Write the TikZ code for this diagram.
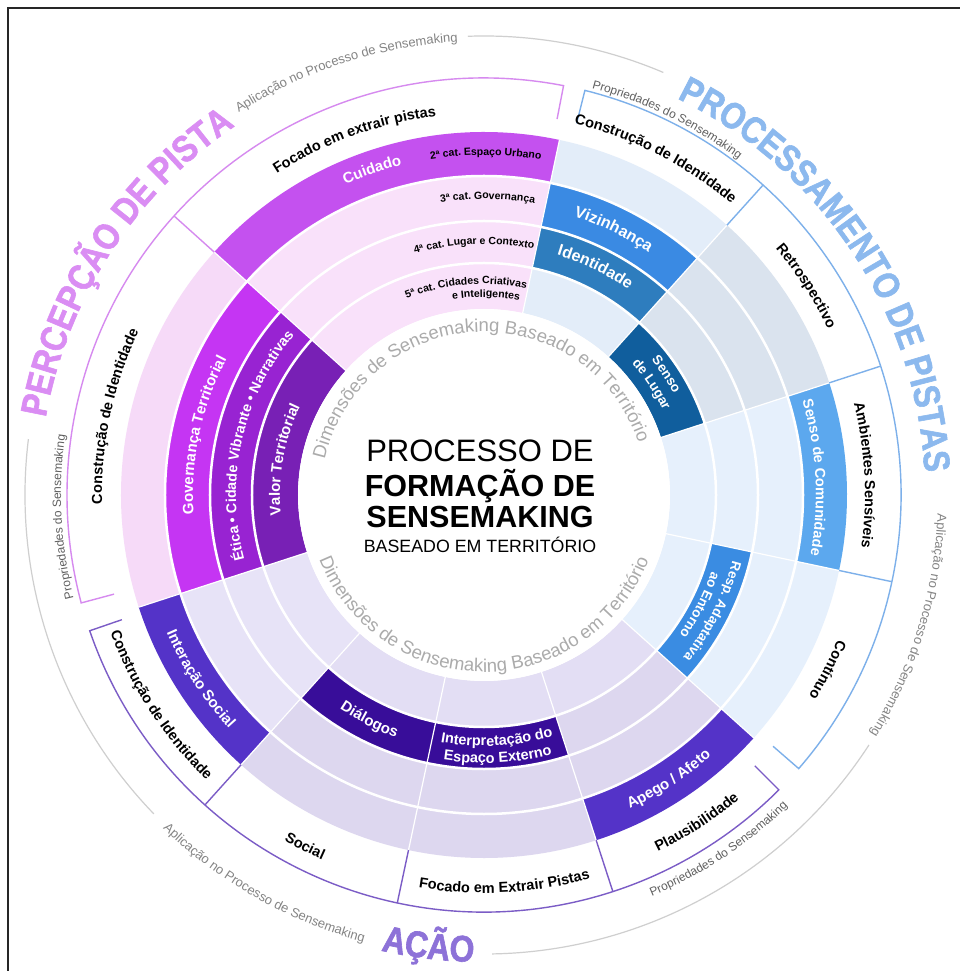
\documentclass[tikz,border=0pt]{standalone}
\usepackage{fontspec}
\setmainfont{Liberation Sans}
\newfontfamily\bigfont{Liberation Sans}[FakeStretch=0.86,FakeBold=1.6]
\usetikzlibrary{decorations.text}
\definecolor{cuid}{HTML}{C451EF}
\definecolor{pinkA}{HTML}{F9E1FA}
\definecolor{pinkB}{HTML}{F6DAF8}
\definecolor{govt}{HTML}{C535F3}
\definecolor{etica}{HTML}{9823D2}
\definecolor{valor}{HTML}{7820B5}
\definecolor{blueA}{HTML}{E3EDF9}
\definecolor{blueG}{HTML}{DAE3EE}
\definecolor{blueB}{HTML}{E6F0FC}
\definecolor{vizi}{HTML}{3A8AE3}
\definecolor{iden}{HTML}{2E7DBE}
\definecolor{lugar}{HTML}{105E9D}
\definecolor{comun}{HTML}{5CA8EE}
\definecolor{resp}{HTML}{3A8CE2}
\definecolor{lavA}{HTML}{E7E3F7}
\definecolor{lavB}{HTML}{DDD7EF}
\definecolor{lavC}{HTML}{E3DEF4}
\definecolor{inter}{HTML}{5433C8}
\definecolor{dial}{HTML}{380D99}
\definecolor{pinkL}{HTML}{D68AEF}
\definecolor{blueL}{HTML}{7DB0EA}
\definecolor{lavL}{HTML}{7B5CC6}
\definecolor{greyL}{HTML}{CFCFCF}
\definecolor{pinkT}{HTML}{DA8DF3}
\definecolor{blueT}{HTML}{8CB9EE}
\definecolor{lavT}{HTML}{8D72D8}
\definecolor{greyT}{HTML}{858585}
\definecolor{propT}{HTML}{606060}
\definecolor{dimT}{HTML}{ABABAB}
\newcommand\annsec[5]{\fill[#1] (#2:#4pt) arc[start angle=#2,end angle=#3,radius=#4pt] -- (#3:#5pt) arc[start angle=#3,end angle=#2,radius=#5pt] -- cycle;}
\newcommand\cwtext[6][]{\path[decorate,decoration={text along path,text align=center,text color=black,#1,text={|#5|#6}}] ({#2+#4}:#3pt) arc[start angle={#2+#4},end angle={#2-#4},radius=#3pt];}
\newcommand\ccwtext[6][]{\path[decorate,decoration={text along path,text align=center,text color=black,#1,text={|#5|#6}}] ({#2-#4}:#3pt) arc[start angle={#2-#4},end angle={#2+#4},radius=#3pt];}
\newcommand\fring{\bfseries\fontsize{14.5}{17}\selectfont}
\newcommand\finn{\bfseries\fontsize{15}{17}\selectfont}
\newcommand\fcat{\bfseries\fontsize{10.5}{12}\selectfont}
\newcommand\fbig{\bigfont\bfseries\fontsize{37}{40}\selectfont}
\newcommand\fapl{\fontsize{13}{15}\selectfont}
\newcommand\fprop{\fontsize{12}{14}\selectfont}
\newcommand\fdim{\fontsize{18.5}{20}\selectfont}
\tikzset{
  ringdiv/.style={line width=1.4pt},
  greyarc/.style={greyL,line width=1.2pt},
  sep/.style={white,line width=2.5pt},
  radsep/.style={white,line width=1.2pt}
}
\begin{document}
\begin{tikzpicture}[x=1pt,y=1pt]
\fill[white] (-484,-476) rectangle (475,495);
\useasboundingbox (-484,-476) rectangle (475,495);
% pink sector
\annsec{cuid}{78}{138}{319}{363}
\annsec{pinkA}{78}{138}{186}{319}
\annsec{pinkB}{138}{198}{319}{363}
\annsec{govt}{138}{198}{274}{319}
\annsec{etica}{138}{198}{232}{274}
\annsec{valor}{138}{198}{186}{232}
% blue sector
\annsec{blueA}{48}{78}{319}{363}
\annsec{vizi}{48}{78}{274}{319}
\annsec{iden}{48}{78}{232}{274}
\annsec{blueA}{48}{78}{186}{232}
\annsec{blueG}{18}{48}{232}{363}
\annsec{lugar}{18}{48}{186}{232}
\annsec{comun}{-12}{18}{319}{363}
\annsec{blueB}{-12}{18}{186}{319}
\annsec{blueB}{-42}{-12}{274}{363}
\annsec{resp}{-42}{-12}{232}{274}
\annsec{blueB}{-42}{-12}{186}{232}
% lavender sector
\annsec{inter}{198}{228}{319}{363}
\annsec{lavA}{198}{228}{186}{319}
\annsec{lavB}{228}{288}{274}{363}
\annsec{dial}{228}{288}{232}{274}
\annsec{lavC}{228}{318}{186}{232}
\annsec{inter}{288}{318}{319}{363}
\annsec{lavB}{288}{318}{232}{319}
% inner disc and separators
\fill[white] (0,0) circle[radius=186pt];
\foreach \r in {232,274,319} \draw[sep] (0,0) circle[radius=\r pt];
\foreach \a in {18,48,78,138,198,228,258,288,318,348} \draw[radsep] (\a:186pt) -- (\a:363pt);
% label ring dividers
\draw[pinkL,ringdiv] (138:363pt) -- (138:417pt);
\foreach \a in {48,18,-12} \draw[blueL,ringdiv] (\a:363pt) -- (\a:417pt);
\foreach \a in {228,258,288} \draw[lavL,ringdiv] (\a:363pt) -- (\a:417pt);
% brackets
\draw[pinkL,ringdiv] (79:383pt) -- (79:417pt) arc[start angle=79,end angle=195,radius=417pt] -- (195:383pt);
\draw[lavL,ringdiv] (199:383pt) -- (199:417pt) arc[start angle=199,end angle=315,radius=417pt] -- (315:383pt);
\draw[blueL,ringdiv] (76:383pt) -- (76:417pt) arc[start angle=76,end angle=-41,radius=417pt] -- (-41:383pt);
% grey outer arcs
\draw[greyarc] (67:459pt) arc[start angle=67,end angle=92,radius=459pt];
\draw[greyarc] (173:459pt) arc[start angle=173,end angle=224,radius=459pt];
\draw[greyarc] (271:459pt) arc[start angle=271,end angle=327,radius=459pt];
% frame
\draw[black!85,line width=1.8pt] (-476,-490) -- (-476,487) -- (490,487);
% big titles
\cwtext[text color=pinkT]{147}{445}{40}{\fbig}{PERCEPÇÃO DE PISTA}
\cwtext[text color=blueT]{33.5}{441}{45}{\fbig}{PROCESSAMENTO DE PISTAS}
\ccwtext[text color=lavT]{263}{467}{20}{\fbig}{AÇÃO}
% grey application labels
\cwtext[text color=greyT]{108}{454}{25}{\fapl}{Aplicação no Processo de Sensemaking}
\cwtext[text color=greyT]{-17}{454}{25}{\fapl}{Aplicação no Processo de Sensemaking}
\ccwtext[text color=greyT]{240.5}{463}{25}{\fapl}{Aplicação no Processo de Sensemaking}
% properties labels
\cwtext[text color=propT]{64}{421}{20}{\fprop}{Propriedades do Sensemaking}
\cwtext[text color=propT]{183}{423}{20}{\fprop}{Propriedades do Sensemaking}
\ccwtext[text color=propT]{303.5}{435}{20}{\fprop}{Propriedades do Sensemaking}
% white ring labels
\cwtext{110}{382}{30}{\fring}{Focado em extrair pistas}
\cwtext{168}{382}{30}{\fring}{Construção de Identidade}
\cwtext{63}{382}{30}{\fring}{Construção de Identidade}
\cwtext{33}{382}{30}{\fring}{Retrospectivo}
\cwtext{3}{381}{30}{\fring}{Ambientes Sensíveis}
\cwtext{-27}{382}{30}{\fring}{Contínuo}
\ccwtext{213}{398}{30}{\fring}{Construção de Identidade}
\ccwtext{243}{399}{30}{\fring}{Social}
\ccwtext{273}{398}{30}{\fring}{Focado em Extrair Pistas}
\ccwtext{303}{397}{30}{\fring}{Plausibilidade}
% inner labels
\cwtext[text color=white]{109}{340}{30}{\finn}{Cuidado}
\cwtext{89.7}{340}{20}{\fcat}{2ª cat. Espaço Urbano}
\cwtext{89.3}{296}{20}{\fcat}{3ª cat. Governança}
\cwtext{92.3}{251}{25}{\fcat}{4ª cat. Lugar e Contexto}
\cwtext{95}{211}{30}{\fcat}{5ª cat. Cidades Criativas}
\cwtext{89.4}{198}{25}{\fcat}{e Inteligentes}
\cwtext[text color=white]{168}{291}{40}{\finn}{Governança Territorial}
\cwtext[text color=white]{167.5}{248}{45}{\bfseries\fontsize{14.3}{17}\selectfont}{Ética • Cidade Vibrante • Narrativas}
\cwtext[text color=white]{170}{204}{40}{\finn}{Valor Territorial}
\cwtext[text color=white]{64}{293}{30}{\bfseries\fontsize{16}{18}\selectfont}{Vizinhança}
\cwtext[text color=white]{64}{251}{30}{\bfseries\fontsize{16}{18}\selectfont}{Identidade}
\cwtext[text color=white]{33.5}{215}{30}{\bfseries\fontsize{13.5}{15}\selectfont}{Senso}
\cwtext[text color=white]{33.5}{198}{30}{\bfseries\fontsize{13.5}{15}\selectfont}{de Lugar}
\cwtext[text color=white]{3}{332}{30}{\fring}{Senso de Comunidade}
\cwtext[text color=white]{-27}{257}{35}{\bfseries\fontsize{13.5}{15}\selectfont}{Resp. Adaptativa}
\cwtext[text color=white]{-27}{240}{35}{\bfseries\fontsize{13.5}{15}\selectfont}{ao Entorno}
\ccwtext[text color=white]{213}{346}{30}{\finn}{Interação Social}
\ccwtext[text color=white]{243}{258}{30}{\finn}{Diálogos}
\ccwtext[text color=white]{273}{251}{30}{\bfseries\fontsize{14.5}{16}\selectfont}{Interpretação do}
\ccwtext[text color=white]{273}{268}{30}{\bfseries\fontsize{14.5}{16}\selectfont}{Espaço Externo}
\ccwtext[text color=white]{303}{346}{30}{\finn}{Apego / Afeto}
% dimension texts
\cwtext[text color=dimT]{93}{163}{85}{\fdim}{Dimensões de Sensemaking Baseado em Território}
\ccwtext[text color=dimT]{270}{177}{85}{\fdim}{Dimensões de Sensemaking Baseado em Território}
% centre title
\node[anchor=base,font=\fontsize{31}{31}\selectfont] (t1) at (-4,33) {PROCESSO DE};
\node[anchor=base,font=\bfseries\fontsize{30.5}{31}\selectfont] (t2) at (-4,-2) {FORMAÇÃO DE};
\node[anchor=base,font=\bfseries\fontsize{30.5}{31}\selectfont] (t3) at (-4,-32) {SENSEMAKING};
\node[anchor=base,font=\fontsize{17.8}{18}\selectfont] (t4) at (-4,-57) {BASEADO EM TERRITÓRIO};
\end{tikzpicture}
\end{document}
